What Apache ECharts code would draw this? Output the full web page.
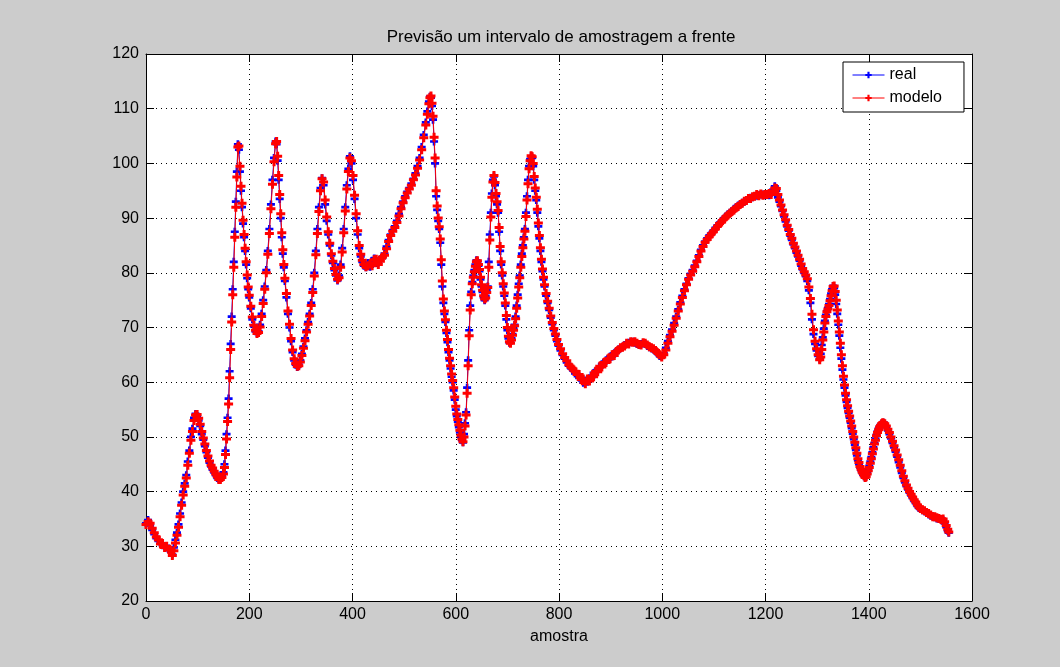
<!DOCTYPE html>
<html>
<head>
<meta charset="utf-8">
<script src="https://cdn.jsdelivr.net/npm/echarts@6/dist/echarts.min.js"></script>
<style>
  html, body { margin: 0; padding: 0; background: #cccccc; }
  #chart { width: 1060px; height: 667px; }
</style>
</head>
<body>
<div id="chart"></div>
<script>
// Sample index (x) shared by both series
const amostra = [
  0,4,8,12,16,20,24,28,32,36,40,44,48,51,54,57,60,63,66,69,72,75,78,81,84,87,90,93,96,99,
  102,105,108,111,114,117,120,123,126,129,132,135,138,141,144,147,150,152,154,156,158,160,162,164,166,168,170,172,174,176,
  178,180,182,184,186,188,190,192,194,196,198,200,203,206,209,212,215,218,221,224,227,230,233,236,239,242,245,248,251,253,
  255,257,259,261,263,265,267,269,272,275,278,281,284,287,290,293,296,299,302,305,308,311,314,317,320,323,326,329,332,335,
  338,341,344,347,350,353,356,359,362,365,368,371,374,377,380,383,386,389,392,395,398,401,404,407,410,413,416,419,422,426,
  430,434,438,442,446,450,454,458,462,466,470,474,478,482,486,490,494,498,502,506,510,514,518,522,526,530,534,538,542,545,
  548,550,552,554,556,558,560,562,564,566,568,570,572,574,576,578,580,582,584,586,588,590,592,594,596,598,600,602,604,606,
  608,610,612,614,616,618,620,622,624,626,628,630,632,634,636,638,640,642,644,646,648,650,652,654,656,658,660,662,664,666,
  668,670,672,674,676,678,680,682,684,686,688,690,692,694,696,698,700,702,704,706,708,710,712,714,716,718,720,722,724,726,
  728,730,732,734,736,738,740,742,744,746,748,750,752,754,756,758,760,762,764,766,768,770,772,775,778,781,784,787,790,793,
  796,799,803,807,811,815,819,823,827,831,835,839,843,847,851,855,859,863,867,871,875,879,883,887,891,895,899,903,907,911,
  915,919,923,927,931,935,939,943,947,951,955,959,963,967,971,975,979,983,987,991,995,999,1003,1007,1011,1015,1019,1023,1027,1031,
  1035,1039,1043,1047,1051,1055,1059,1063,1067,1071,1075,1079,1083,1087,1091,1095,1099,1103,1107,1111,1115,1119,1123,1127,1131,1135,1139,1143,1147,1151,
  1155,1159,1163,1167,1171,1175,1179,1183,1187,1191,1195,1199,1203,1207,1211,1215,1218,1221,1224,1227,1230,1233,1236,1239,1242,1245,1248,1251,1254,1257,
  1260,1263,1266,1269,1272,1275,1278,1281,1284,1287,1290,1293,1296,1299,1302,1305,1307,1309,1311,1313,1315,1317,1319,1321,1323,1325,1327,1329,1331,1333,
  1335,1337,1339,1341,1343,1345,1347,1349,1351,1353,1355,1357,1359,1361,1363,1365,1367,1369,1371,1373,1375,1377,1379,1381,1383,1385,1387,1389,1391,1393,
  1395,1397,1399,1401,1403,1405,1407,1409,1411,1413,1415,1417,1419,1421,1423,1425,1427,1429,1431,1434,1437,1440,1443,1446,1449,1452,1455,1458,1461,1464,
  1467,1470,1473,1476,1479,1482,1485,1488,1491,1494,1497,1500,1504,1508,1512,1516,1520,1524,1528,1532,1536,1540,1544,1547,1550,1553,1555
];

// Measured values
const real = [
  34.2,34.8,33.8,33,32.2,31.5,31,30.6,30.2,30,29.8,29.6,29,28.5,29.8,31.2,32.5,34,36,38,40,41.5,43,45.5,47.5,50,51.5,53.5,54.2,53.8,
  53,52,50.5,49.5,48.3,47.2,46.2,45.3,44.6,44,43.5,43,42.5,42.3,42.4,42.8,43.5,45,47.5,50.5,53.5,57,62,67,72,77,82,87.5,93,98.5,
  103.5,102.5,98.5,95,92,89,86.5,84,81.5,79,77,75.5,73.5,71.5,70.2,69.3,69,69.3,70.5,72.5,75,77.5,80.5,84,88,92.5,97,101,104,103.5,
  100.5,97,93.5,90,86.5,83.5,81,78.5,75.5,72.5,70,67.5,65.5,64,63.2,62.8,63.2,64,65.2,66.5,68,69.5,71,72.5,74.5,77,80,84,88,92,
  95.5,97.3,96,92.5,89.5,87,85,83.2,81.8,80.5,79.5,78.6,79.5,81.5,84.5,88,92,96,99,101.3,100,97,93.5,90,87,84.5,83,82,81.3,81,
  81.8,81.1,82.2,82.6,81.8,81.9,82.5,82.7,83.5,84.8,86,87,87.8,88.5,89.5,90.8,92,93,94,94.8,95.5,96.3,97.2,98.2,99.5,101,103,105.2,107.5,109.5,
  111.3,112.2,112,110.5,108,104,100,94,91.5,89.5,88,85.5,81.5,77.5,74.5,72.5,71,69,67.3,65.5,64,62.5,61,60,58.5,56.8,55,53.8,52.8,51.8,
  50.8,50,49.4,49,50.5,52.5,54.5,59,64,69.5,74,76.5,78.3,79.5,80.5,81.5,82.3,82,81.3,80.3,78.8,77.5,76.5,75.5,75,75.8,76.8,77.5,82,87,
  91,94.5,97,97.6,96,94,92.5,91,87.5,84,81.5,79.5,77.5,75.8,74,71.5,69.5,68,67.2,67.3,68,68.8,69.8,70.5,72,74,76,78,79.5,81.5,
  83.5,85,86.5,88,91,94,97,99.5,100.8,101.3,101,99.5,97,95,93.3,91,88.5,86.3,84,82,80.3,78.8,77.5,75.8,74.5,73.2,71.8,70.6,69.5,68.5,
  67.5,66.7,65.8,65,64.3,63.6,63,62.6,62.2,61.6,61.5,60.8,60.7,59.9,60.3,60.1,60.7,60.9,61.7,61.9,62.4,62.7,63.3,63.5,64,64.2,64.7,64.7,65.3,65.5,
  66,66.2,66.5,66.8,67,67.2,67.3,67.4,67.2,67,66.8,67,67.1,67,66.6,66.4,66.2,66,65.6,65.2,64.8,64.7,65.3,66.3,67.5,68.6,69.6,70.8,72,73.3,
  74.6,75.8,77,78,79,79.8,80.5,81.3,82.2,83.2,84.2,85,85.7,86.3,86.8,87.2,87.7,88.2,88.7,89.1,89.5,89.9,90.3,90.7,91,91.3,91.7,92,92.3,92.6,
  92.8,93,93.3,93.5,93.7,93.8,94,94.1,94.2,94.3,94.3,94.2,94.4,94.2,94.6,95.2,95.8,95,93.8,93,92.2,91.3,90.3,89.4,88.5,87.7,86.8,86,85.2,84.5,
  83.7,83,82.2,81.3,80.6,80,79.4,78.5,76.8,74.5,71.5,68.8,67,65.8,64.8,64.2,65.2,66.8,68.2,69.8,71.2,72.3,73,73.6,74.3,75.2,76.2,77,77.6,77.2,
  76,74.3,72.5,70.5,68.5,66.3,64.3,62.3,60.5,59,57.6,56.4,55.3,54.4,53.5,52.6,51.6,50.6,49.6,48.6,47.6,46.6,45.7,45,44.4,43.9,43.5,43.1,42.8,42.6,
  42.9,43.4,44,44.7,45.5,46.3,47.2,48.1,48.9,49.7,50.4,51,51.5,51.9,52.2,52.4,52.5,52.6,52.3,51.8,51.2,50.5,49.7,48.9,48.1,47.3,46.4,45.4,44.4,43.4,
  42.5,41.7,41,40.4,39.8,39.3,38.8,38.3,37.9,37.4,37,36.8,36.6,36.4,36.1,35.8,35.6,35.5,35.3,35.1,35,35,34.8,34.2,33.5,32.8,32.5
];

// One-step-ahead prediction
const modelo = [
  34,34.5,34.2,33.3,32.5,31.7,31.2,30.4,30.5,29.8,30,29.4,29.3,28.3,29.2,30.6,32,33.5,35.4,37.5,39.4,41,42.5,44.8,47,49.4,51,53,54,54.1,
  53.4,52.3,51,49.8,48.7,47.5,46.5,45.6,44.8,44.3,43.7,43.2,42.7,42.2,42.2,42.6,43.2,44.4,46.8,49.6,52.8,56,60.8,66,71,76,81,86.5,92,97.5,
  103,103.2,99.5,95.8,92.7,89.6,87,84.5,82,79.6,77.4,75.9,73.9,71.9,70.4,69.5,68.9,69.1,70.1,72,74.4,77,80,83.4,87.2,91.7,96.2,100.3,103.6,104,
  101.3,97.8,94.3,90.8,87.3,84.2,81.5,79,76.2,73,70.6,68,65.9,64.3,63.4,62.9,63,63.7,64.9,66.2,67.6,69.2,70.6,72.1,74,76.4,79.4,83.3,87.2,91.2,
  95,97.2,96.6,93.3,90.2,87.5,85.4,83.5,82.1,80.8,79.7,78.8,79.1,81,83.8,87.3,91.3,95.3,98.5,101,100.5,97.8,94.2,90.8,87.7,85,83.4,82.3,81.5,81.1,
  81.3,81.6,81.3,82.4,82.5,81.5,82.1,82.9,83.2,84.4,85.7,86.8,87.6,88.3,89.2,90.4,91.7,92.8,93.7,94.6,95.3,96,97,97.9,99.1,100.6,102.5,104.7,107,109,
  110.9,112,112.3,111,108.6,104.8,101,95,92.2,90,88.4,86.2,82.4,78.5,75.2,73,71.4,69.5,67.8,66,64.4,63,61.5,60.3,59,57.3,55.6,54.2,53.2,52.2,
  51.2,50.3,49.6,49.1,50,52,54,58,63,68.5,73.2,76,78,79.2,80.2,81.2,82,82.2,81.5,80.6,79.2,77.8,76.8,75.8,75.2,75.4,76.4,77.3,81,86,
  90.2,93.8,96.6,97.8,96.5,94.5,93,91.4,88.3,84.8,82,80,78,76.3,74.5,72.2,70,68.4,67.4,67.1,67.7,68.6,69.5,70.3,71.6,73.5,75.4,77.4,79.1,81,
  83,84.6,86.2,87.6,90.3,93.3,96.3,99,100.5,101.4,101.2,100,97.6,95.5,93.8,91.6,89.1,86.8,84.6,82.5,80.7,79.2,77.8,76.2,74.8,73.5,72.1,70.9,69.8,68.8,
  67.8,66.9,66.1,65.2,64.5,63.9,63.2,62.8,62.4,62,61.4,61.4,60.5,60.6,59.7,60.6,60.2,61.1,61,62,61.9,62.9,62.8,63.6,63.6,64.3,64.3,65,64.9,65.6,
  65.9,66.3,66.4,66.6,67.1,67,67.4,67.3,67.4,67.1,66.9,66.8,67.2,67.1,66.8,66.5,66.3,66.1,65.8,65.4,65,64.6,65,65.9,67.1,68.3,69.3,70.4,71.7,73,
  74.3,75.5,76.7,77.8,78.8,79.6,80.3,81.1,82,83,84,84.8,85.6,86.1,86.6,87.1,87.5,88,88.5,89,89.3,89.8,90.2,90.5,90.9,91.2,91.5,91.9,92.1,92.5,
  92.7,93.1,93.2,93.6,93.6,93.9,94,94.3,94.1,94.4,94.2,94.3,94.3,94.5,94.3,94.9,95.5,95.4,94.3,93.3,92.4,91.5,90.6,89.7,88.7,87.9,87,86.3,85.4,84.7,
  84,83.2,82.5,81.6,80.8,80.2,79.6,78.9,77.4,75.3,72.4,69.6,67.5,66.1,65,64.1,64.6,66,67.7,69.2,70.8,72,72.9,73.4,74,74.9,75.8,76.7,77.5,77.6,
  76.6,75,73.2,71.2,69.2,67.1,65,63,61.1,59.5,58,56.8,55.7,54.7,53.8,52.9,52,51,50,49,48,47,46,45.3,44.6,44.1,43.6,43.3,42.9,42.6,
  42.7,43.2,43.8,44.4,45.2,46,46.9,47.8,48.7,49.4,50.2,50.8,51.3,51.8,52.1,52.4,52.6,52.5,52.4,52,51.4,50.8,50,49.2,48.4,47.6,46.7,45.8,44.8,43.8,
  42.8,42,41.2,40.6,40,39.5,39,38.5,38.1,37.6,37.2,36.9,36.7,36.5,36.2,36,35.7,35.4,35.4,35.2,35.1,34.9,35,34.5,33.8,33.1,32.6
];

// Axis ticks
const xTicks = { min: 0, max: 1600, step: 200 };
const yTicks = { min: 20, max: 120, step: 10 };

const FONT = "'Liberation Sans', Arial, Helvetica, sans-serif";
// '+' marker drawn as a filled cross
const plus = 'path://M3,0H6V3H9V6H6V9H3V6H0V3H3Z';

const realData = amostra.map((x, i) => [x, real[i]]);
const modeloData = amostra.map((x, i) => [x, modelo[i]]);

const grid = { left: 146, right: 88, top: 54, bottom: 66, containLabel: false,
  show: true, backgroundColor: '#ffffff', borderWidth: 0 };

const splitDots = { show: true, lineStyle: { color: '#000', width: 1, type: [1, 4] } };
const axisLineBlack = { show: true, onZero: false, lineStyle: { color: '#000', width: 1 } };
const tickIn = { show: true, inside: true, length: 8, lineStyle: { color: '#000', width: 1 } };
const plain = v => String(v);

const chart = echarts.init(document.getElementById('chart'), null, { renderer: 'canvas' });
chart.setOption({
  backgroundColor: '#cccccc',
  animation: false,
  textStyle: { fontFamily: FONT },
  title: {
    text: 'Previsão um intervalo de amostragem a frente',
    left: 556, top: 24, textAlign: 'center',
    textStyle: { fontFamily: FONT, fontSize: 17, fontWeight: 'normal', color: '#000' }
  },
  grid: grid,
  legend: {
    data: ['real', 'modelo'],
    orient: 'vertical',
    left: 843, top: 62,
    padding: [5, 22, 6, 9],
    itemWidth: 32, itemHeight: 8, itemGap: 7,
    lineStyle: { width: 1 },
    backgroundColor: '#ffffff', borderColor: '#000', borderWidth: 1,
    textStyle: { fontFamily: FONT, fontSize: 16, color: '#000', lineHeight: 16 }
  },
  xAxis: [
    {
      type: 'value', position: 'bottom', min: xTicks.min, max: xTicks.max, interval: xTicks.step,
      name: 'amostra', nameLocation: 'middle', nameGap: 28,
      nameTextStyle: { fontFamily: FONT, fontSize: 16, color: '#000' },
      axisLine: axisLineBlack, axisTick: tickIn,
      axisLabel: { color: '#000', fontSize: 16, fontFamily: FONT, margin: 6, formatter: plain },
      splitLine: splitDots
    },
    {
      type: 'value', position: 'top', min: xTicks.min, max: xTicks.max, interval: xTicks.step,
      axisLine: axisLineBlack, axisTick: tickIn, axisLabel: { show: false }, splitLine: { show: false }
    }
  ],
  yAxis: [
    {
      type: 'value', position: 'left', min: yTicks.min, max: yTicks.max, interval: yTicks.step,
      axisLine: axisLineBlack, axisTick: tickIn,
      axisLabel: { color: '#000', fontSize: 16, fontFamily: FONT, margin: 7, formatter: plain },
      splitLine: splitDots
    },
    {
      type: 'value', position: 'right', min: yTicks.min, max: yTicks.max, interval: yTicks.step,
      axisLine: axisLineBlack, axisTick: tickIn, axisLabel: { show: false }, splitLine: { show: false }
    }
  ],
  series: [
    {
      name: 'real', type: 'line', data: realData,
      xAxisIndex: 0, yAxisIndex: 0,
      symbol: plus, symbolSize: 8, showSymbol: true, showAllSymbol: true,
      lineStyle: { color: '#0000ff', width: 1 },
      itemStyle: { color: '#0000ff' },
      emphasis: { disabled: true }, z: 2
    },
    {
      name: 'modelo', type: 'line', data: modeloData,
      xAxisIndex: 0, yAxisIndex: 0,
      symbol: plus, symbolSize: 9, showSymbol: true, showAllSymbol: true,
      lineStyle: { color: '#ff0000', width: 1 },
      itemStyle: { color: '#ff0000' },
      emphasis: { disabled: true }, z: 3
    }
  ]
});
</script>
</body>
</html>
